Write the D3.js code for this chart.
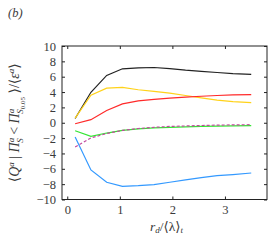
<!DOCTYPE html>
<html>
<head>
<meta charset="utf-8">
<script src="https://cdn.jsdelivr.net/npm/d3@7"></script>
<style>
  body { margin: 0; background: #fff; }
  svg text { font-family: "Liberation Serif", "DejaVu Serif", serif; fill: #3a3a3a; }
</style>
</head>
<body>
<svg id="chart" width="279" height="242"></svg>
<script>
// data
var xs = [0.15, 0.45, 0.75, 1.05, 1.35, 1.65, 1.95, 2.25, 2.55, 2.85, 3.15, 3.5];
var black = [0.56, 3.97, 6.17, 7.03, 7.15, 7.2, 7.05, 6.85, 6.7, 6.55, 6.4, 6.3];
var yellow = [0.6, 3.6, 4.5, 4.62, 4.3, 4.1, 3.85, 3.55, 3.25, 2.95, 2.75, 2.63];
var red = [-0.13, 0.4, 1.6, 2.45, 2.85, 3.05, 3.22, 3.35, 3.45, 3.55, 3.62, 3.67];
var green = [-1.04, -1.77, -1.34, -1.0, -0.8, -0.68, -0.6, -0.53, -0.48, -0.44, -0.41, -0.38];
var magenta = [-3.15, -1.98, -1.4, -1.0, -0.75, -0.6, -0.48, -0.42, -0.36, -0.31, -0.28, -0.25];
var blue = [-1.85, -6.15, -7.75, -8.3, -8.2, -8.05, -7.75, -7.45, -7.15, -6.9, -6.75, -6.55];
var xTicks = [0, 1, 2, 3];
var yTicks = [-10, -8, -6, -4, -2, 0, 2, 4, 6, 8, 10];

var series = [
  { vals: black, color: "#222222", dash: null },
  { vals: yellow, color: "#ffd21a", dash: null },
  { vals: red, color: "#ff2a2a", dash: null },
  { vals: green, color: "#33e633", dash: null },
  { vals: magenta, color: "#c2489e", dash: "3,2" },
  { vals: blue, color: "#3399ff", dash: null }
];

var margin = { top: 46, right: 12, bottom: 42.5, left: 62 },
    width = 279 - margin.left - margin.right,
    height = 242 - margin.top - margin.bottom;

var svg = d3.select("#chart");
var g = svg.append("g").attr("transform", "translate(" + margin.left + "," + margin.top + ")");

var x = d3.scaleLinear().domain([-0.1, 3.8]).range([0, width]);
var y = d3.scaleLinear().domain([-10, 10]).range([height, 0]);

// lines
var line = d3.line()
  .x(function(d, i) { return x(xs[i]); })
  .y(function(d) { return y(d); });

series.forEach(function(s) {
  g.append("path")
    .attr("d", line(s.vals))
    .attr("fill", "none")
    .attr("stroke", s.color)
    .attr("stroke-width", 1.2)
    .attr("stroke-dasharray", s.dash);
});

// axes with inward ticks on all sides
var axB = g.append("g").attr("transform", "translate(0," + height + ")")
  .call(d3.axisBottom(x).tickValues(xTicks).tickSize(-3).tickPadding(6).tickFormat(d3.format("d")));
var axT = g.append("g")
  .call(d3.axisTop(x).tickValues(xTicks).tickSize(-3).tickFormat(""));
var axL = g.append("g")
  .call(d3.axisLeft(y).tickValues(yTicks).tickSize(-3).tickPadding(6)
    .tickFormat(function(d) { return d < 0 ? "\u2212" + Math.abs(d) : d; }));
var axR = g.append("g").attr("transform", "translate(" + width + ",0)")
  .call(d3.axisRight(y).tickValues(yTicks).tickSize(-3).tickFormat(""));

[axB, axT, axL, axR].forEach(function(a) {
  a.attr("font-family", null);
  a.select(".domain").remove();
  a.selectAll("line").attr("stroke", "#222").attr("stroke-width", 1);
  a.selectAll("text").attr("font-size", 12.5).attr("fill", "#3a3a3a");
});

g.append("rect")
  .attr("width", width).attr("height", height)
  .attr("fill", "none").attr("stroke", "#222").attr("stroke-width", 1);

// panel tag
svg.append("text").attr("x", 8).attr("y", 17).attr("font-size", 12.5)
  .attr("font-style", "italic").text("(b)");

// x label
var xl = svg.append("text").attr("x", margin.left + width / 2 + 2).attr("y", 231)
  .attr("text-anchor", "middle").attr("font-size", 13.5).attr("font-style", "italic");
xl.append("tspan").text("r");
xl.append("tspan").attr("font-size", 9).attr("dy", 2).text("d");
xl.append("tspan").attr("dy", -2).attr("font-style", "normal").text("/\u27E8\u03BB\u27E9");
xl.append("tspan").attr("font-size", 9).attr("dy", 2).text("t");

// y label
var yl = svg.append("text")
  .attr("transform", "translate(19," + (margin.top + height / 2) + ") rotate(-90)")
  .attr("text-anchor", "middle").attr("font-size", 14);
yl.append("tspan").text("\u27E8");
yl.append("tspan").attr("font-style", "italic").text("Q");
yl.append("tspan").attr("font-size", 9).attr("dy", -5).attr("font-style", "italic").text("a");
yl.append("tspan").attr("dy", 5).text(" | ");
yl.append("tspan").attr("font-style", "italic").text("\u03A0");
yl.append("tspan").attr("font-size", 9).attr("dy", -5).attr("font-style", "italic").text("a");
yl.append("tspan").attr("font-size", 9).attr("dx", -5).attr("dy", 9).attr("font-style", "italic").text("S");
yl.append("tspan").attr("dy", -4).text(" < ");
yl.append("tspan").attr("font-style", "italic").text("\u03A0");
yl.append("tspan").attr("font-size", 9).attr("dy", -5).attr("font-style", "italic").text("a");
yl.append("tspan").attr("font-size", 9).attr("dx", -5).attr("dy", 9).attr("font-style", "italic").text("S");
yl.append("tspan").attr("font-size", 7).attr("dy", 2).text("0.05");
yl.append("tspan").attr("dy", -6).text(" \u27E9/\u27E8");
yl.append("tspan").attr("font-style", "italic").text("\u03B5");
yl.append("tspan").attr("font-size", 9).attr("dy", -5).attr("font-style", "italic").text("a");
yl.append("tspan").attr("dy", 5).text("\u27E9");
</script>
</body>
</html>
